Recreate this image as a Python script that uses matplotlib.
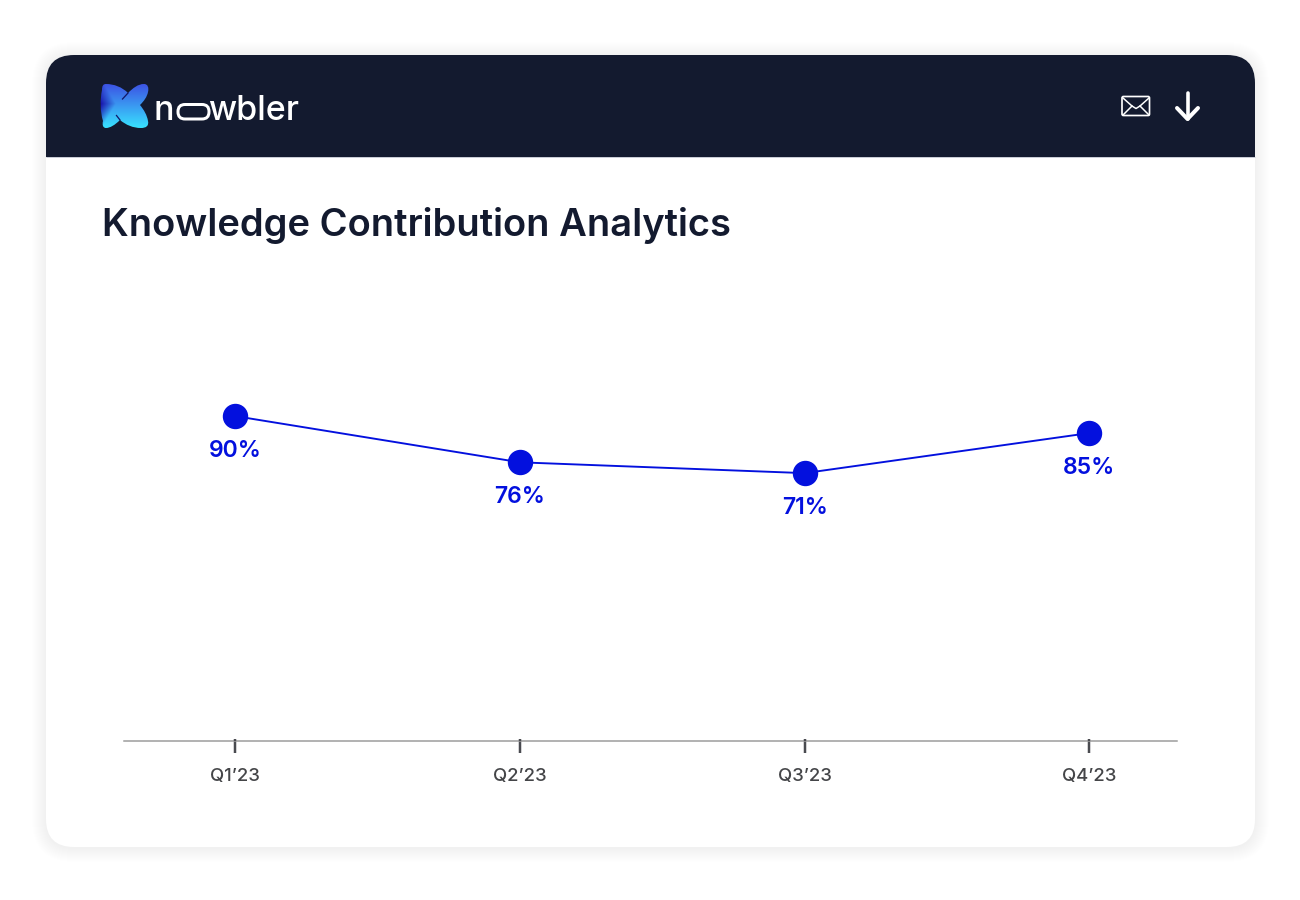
import numpy as np
import matplotlib
matplotlib.use("Agg")
import matplotlib.pyplot as plt
from matplotlib.patches import FancyBboxPatch, Rectangle, PathPatch
from matplotlib.path import Path

categories = ["Q1’23", "Q2’23", "Q3’23", "Q4’23"]
marker_heights = [90.0, 77.2, 74.2, 85.3]
value_labels = ["90%", "76%", "71%", "85%"]
title = "Knowledge Contribution Analytics"

FONT = ["Inter", "DejaVu Sans"]
NAVY = "#131A2F"
BLUE = "#0310DE"
PX = 0.72

fig = plt.figure(figsize=(13, 9), dpi=100, facecolor="white")
bg = fig.add_axes([0, 0, 1, 1])
bg.set_xlim(0, 1300)
bg.set_ylim(900, 0)
bg.axis("off")


def card(x0, y0, x1, y1, r, **kw):
    return FancyBboxPatch((x0 + r, y0 + r), x1 - x0 - 2 * r, y1 - y0 - 2 * r,
                          boxstyle=f"round,pad={r},rounding_size={r}", **kw)


for g in range(14, 0, -1):
    bg.add_patch(card(46 - g, 55 - g + 1, 1255 + g, 847 + g + 1, 28 + g,
                      fc="#4a4f70", ec="none", alpha=0.0042))
bg.add_patch(card(46, 55, 1255, 847, 28, fc="white", ec="none"))
clip = card(46, 55, 1255, 847, 28, fc="none", ec="none")
bg.add_patch(clip)
hdr = Rectangle((46, 55), 1209, 102, fc=NAVY, ec="none")
bg.add_patch(hdr)
hdr.set_clip_path(clip)
bg.plot([46, 1255], [157, 157], color="#c9ccd6", lw=1 * PX, solid_capstyle="butt")

# logo mark: silhouette filled with a 2D gradient
C = Path.CURVE4
verts = [(106, 84),
         (114, 84), (122, 87), (128, 93),
         (133, 88), (138, 84), (144, 84),
         (148, 84), (149, 88), (148, 92),
         (147, 97), (144, 101), (140, 105),
         (144, 110), (147, 115), (148, 121),
         (149, 126), (146, 128), (141, 128),
         (133, 128), (126, 125), (120, 120),
         (115, 125), (110, 128), (106, 128),
         (103, 128), (102, 125), (103, 121),
         (100, 111), (100, 100), (102, 90),
         (102, 86), (103, 84), (106, 84)]
codes = [Path.MOVETO] + [C] * (len(verts) - 1)
logo = PathPatch(Path(verts, codes), fc="none", ec="none")
bg.add_patch(logo)
u, v = np.meshgrid(np.linspace(0, 1, 120), np.linspace(0, 1, 120))
base = np.array([0.22, 0.33, 0.90])
low = np.array([0.22, 0.90, 1.00])
top_c = np.array([0.27, 0.28, 0.88])
dark = np.array([0.09, 0.05, 0.66])
t = np.clip(v[..., None], 0, 1)
rgb = top_c * (1 - t) + low * t
rgb = rgb * 0.35 + (base * (1 - t) + low * t) * 0.65
k = np.clip(1 - (u + 0.55 * np.abs(v - 0.45)) / 0.32, 0, 1)[..., None]
rgb = rgb * (1 - k) + dark * k
im = bg.imshow(rgb, extent=(100, 150, 129, 83), aspect="auto", zorder=3, origin="upper")
im.set_clip_path(logo)
bg.plot([128, 122.5], [93, 99], color="#12186a", lw=1.3 * PX, zorder=3.5)
bg.plot([120, 116.5], [120, 115.5], color="#12186a", lw=1.3 * PX, zorder=3.5)
bg.set_xlim(0, 1300)
bg.set_ylim(900, 0)

# wordmark
tk = dict(color="white", family=FONT, fontsize=34 * PX, fontweight=500, va="baseline", zorder=4)
bg.text(153, 120.5, "n", **tk)
bg.add_patch(FancyBboxPatch((178, 104.5), 31, 14.5, boxstyle="round,pad=0,rounding_size=7",
                            fc="none", ec="white", lw=3 * PX, zorder=4))
bg.text(208, 120.5, "wbler", **tk)

# envelope
bg.add_patch(FancyBboxPatch((1122, 96.5), 27.5, 19, boxstyle="round,pad=0,rounding_size=1.5",
                            fc="none", ec="white", lw=1.7 * PX, zorder=4))
bg.plot([1123, 1132, 1136, 1140, 1149], [98, 106, 108.5, 106, 98], color="white", lw=1.5 * PX, zorder=4)
bg.plot([1123, 1132], [115, 106], color="white", lw=1.5 * PX, zorder=4)
bg.plot([1149, 1140], [115, 106], color="white", lw=1.5 * PX, zorder=4)
# download arrow
bg.plot([1187.5, 1187.5], [93, 119], color="white", lw=3.6 * PX, solid_capstyle="round", zorder=4)
bg.plot([1177, 1187.5, 1198], [108, 119, 108], color="white", lw=4 * PX,
        solid_capstyle="round", solid_joinstyle="round", zorder=4)

bg.text(102, 225.5, title, color=NAVY, family=FONT, fontsize=38.1 * PX, fontweight=600, va="center", ha="left")

# chart
W, H = 1300, 900
left, right, top, bottom = 124, 1177, 290, 741
ax = fig.add_axes([left / W, 1 - bottom / H, (right - left) / W, (bottom - top) / H])
ax.patch.set_alpha(0)
xs = np.arange(len(categories))
step = (1089.3 - 235.2) / 3
ax.set_xlim((left - 235.2) / step, 3 + (right - 1089.3) / step)
ax.set_ylim(0, (bottom - top) / 3.61)
ax.plot(xs, marker_heights, color=BLUE, lw=1.9 * PX, marker="o", ms=24 * PX, mfc=BLUE, mec=BLUE, clip_on=False)
for x, y, lab in zip(xs, marker_heights, value_labels):
    ax.annotate(lab, (x, y), xytext=(0, -35 * PX), textcoords="offset points", ha="center", va="center",
                color=BLUE, family=FONT, fontsize=23 * PX, fontweight=600)
ax.set_xticks(xs, categories, family=FONT, fontsize=18.5 * PX, fontweight=500, color="#444548")
ax.tick_params(axis="x", length=12 * PX, width=2.5 * PX, color="#4a4b50", pad=15.5 * PX)
ax.vlines(xs, 0, 2 / (bottom - top), transform=ax.get_xaxis_transform(), color="#4a4b50",
          lw=2.5 * PX, clip_on=False, zorder=3)
ax.set_yticks([])
for s in ("top", "left", "right"):
    ax.spines[s].set_visible(False)
ax.spines["bottom"].set_color("#9a9a9a")
ax.spines["bottom"].set_linewidth(1.5 * PX)

fig.savefig("out.png", dpi=100, facecolor="white")
